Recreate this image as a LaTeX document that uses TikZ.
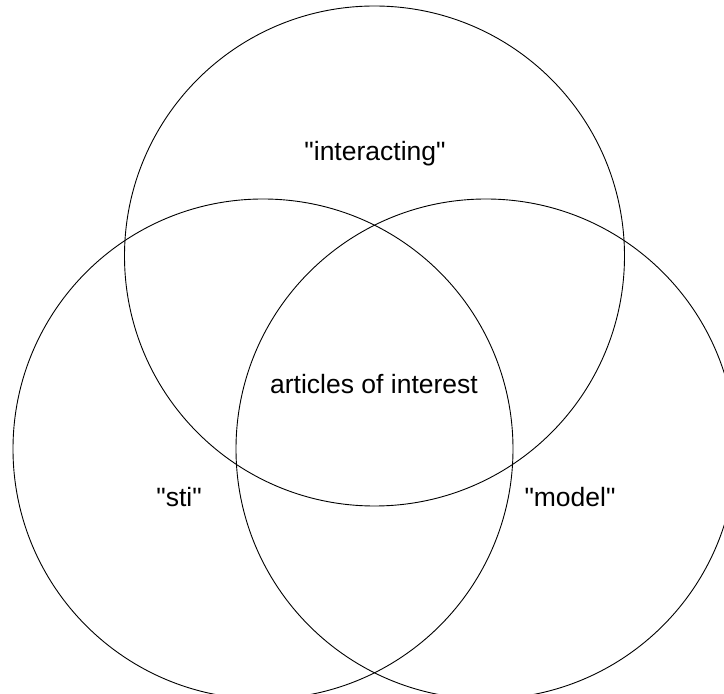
\documentclass[tikz,border=0pt]{standalone}
\usepackage{fontspec}
\setmainfont{Liberation Sans}[Ligatures=TeXOff]
\begin{document}
\begin{tikzpicture}[x=1pt,y=1pt,
  setcircle/.style={circle, draw=black, line width=0.9pt, minimum size=500pt, inner sep=0pt},
  setlabel/.style={anchor=base, inner sep=0pt, font=\fontsize{26.5}{30}\selectfont}]
  \useasboundingbox (0,0) rectangle (724,694);
  \clip (0,0) rectangle (724,694);
  % the three overlapping sets
  \node[setcircle] (interacting) at (374.5,438) {};
  \node[setcircle] (sti) at (263,245) {};
  \node[setcircle] (model) at (486,245) {};
  % labels
  \node[setlabel] (lint) at (375,533) {"interacting"};
  \node[setlabel] (lsti) at (179,187) {"sti"};
  \node[setlabel] (lmodel) at (570,187) {"model"};
  \node[setlabel] (lall) at (374,300) {articles of interest};
\end{tikzpicture}
\end{document}
